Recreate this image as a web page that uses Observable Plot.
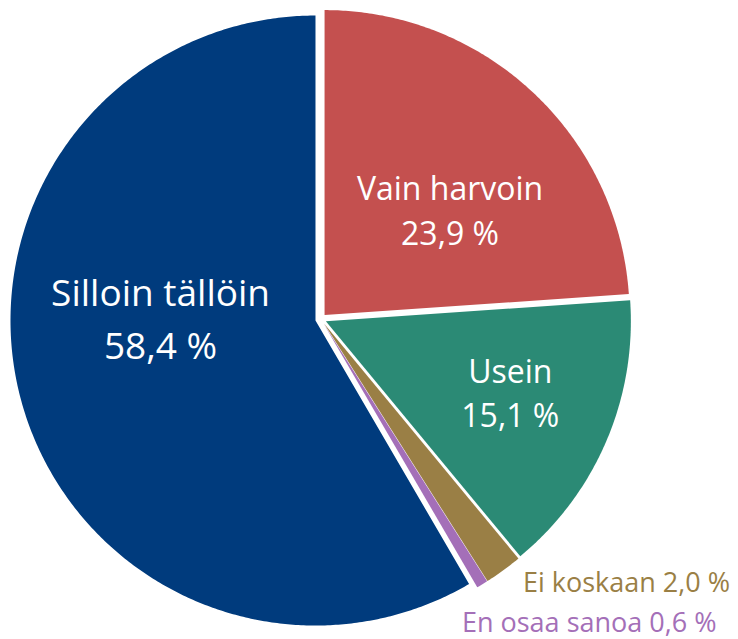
<!DOCTYPE html>
<html>
<head>
<meta charset="utf-8">
<script src="https://cdn.jsdelivr.net/npm/d3@7"></script>
<script src="https://cdn.jsdelivr.net/npm/@observablehq/plot@0.6"></script>
<style>
  html, body { margin: 0; padding: 0; background: #ffffff; }
  #chart svg { display: block; }
</style>
</head>
<body>
<div id="chart"></div>
<script>
// ---- data ----
const categories = ["Vain harvoin", "Usein", "Ei koskaan", "En osaa sanoa", "Silloin tällöin"];
const values = [23.9, 15.1, 2.0, 0.6, 58.4];
const colors = ["#C4504F", "#2B8A75", "#9A7F45", "#A46FB8", "#003B7D"];

// ---- layout (not data) ----
const W = 738, H = 639;
const center = [320.3, 318.6];
const radius = 305;
const explode = 5.5;
// label placement: polar offset from the (exploded) slice centre
const labelLayout = {
  "Vain harvoin":    {angle: 49.5,  dist: 165, inside: true,  size: 32},
  "Usein":           {angle: 110.6, dist: 197, inside: true,  size: 32},
  "Ei koskaan":      {angle: 130.7, dist: 399, inside: false, size: 27.5},
  "En osaa sanoa":   {angle: 138.4, dist: 400, inside: false, size: 27.5},
  "Silloin tällöin": {angle: 272,   dist: 155, inside: true,  size: 37}
};

const rad = d => d * Math.PI / 180;
const total = d3.sum(values);
const fmt = v => v.toFixed(1).replace(".", ",") + " %";

// build slice polygons from the values
const slicePoints = [];
const labels = [];
let acc = 0;
categories.forEach((cat, i) => {
  const a0 = acc / total * 360;
  acc += values[i];
  const a1 = acc / total * 360;
  const mid = (a0 + a1) / 2;
  const cx = center[0] + explode * Math.sin(rad(mid));
  const cy = center[1] - explode * Math.cos(rad(mid));
  slicePoints.push({cat, x: cx, y: cy});
  const n = Math.max(2, Math.ceil((a1 - a0) / 0.5));
  for (let k = 0; k <= n; k++) {
    const a = a0 + (a1 - a0) * k / n;
    slicePoints.push({cat, x: cx + radius * Math.sin(rad(a)), y: cy - radius * Math.cos(rad(a))});
  }
  const L = labelLayout[cat];
  labels.push({
    cat,
    x: cx + L.dist * Math.sin(rad(L.angle)),
    y: cy - L.dist * Math.cos(rad(L.angle)),
    text: L.inside ? cat + "\n" + fmt(values[i]) : cat + " " + fmt(values[i]),
    inside: L.inside,
    size: L.size
  });
});

const chart = Plot.plot({
  width: W,
  height: H,
  margin: 0,
  style: {fontFamily: "'Open Sans', sans-serif", background: "#ffffff"},
  x: {domain: [0, W], range: [0, W], axis: null},
  y: {domain: [0, H], range: [0, H], axis: null},
  color: {domain: categories, range: colors},
  marks: [
    Plot.line(slicePoints, {x: "x", y: "y", z: "cat", fill: "cat", stroke: null, curve: "linear-closed"}),
    Plot.text(labels.filter(d => d.inside && d.size > 35), {
      x: "x", y: "y", text: "text", fill: "white", fontSize: 37, lineHeight: 1.43, lineAnchor: "middle", textAnchor: "middle"
    }),
    Plot.text(labels.filter(d => d.inside && d.size <= 35), {
      x: "x", y: "y", text: "text", fill: "white", fontSize: 32, lineHeight: 1.4, lineAnchor: "middle", textAnchor: "middle"
    }),
    Plot.text(labels.filter(d => !d.inside), {
      x: "x", y: "y", text: "text", fill: "cat", fontSize: 27, lineAnchor: "middle", textAnchor: "middle"
    })
  ]
});
document.getElementById("chart").appendChild(chart);
</script>
</body>
</html>
